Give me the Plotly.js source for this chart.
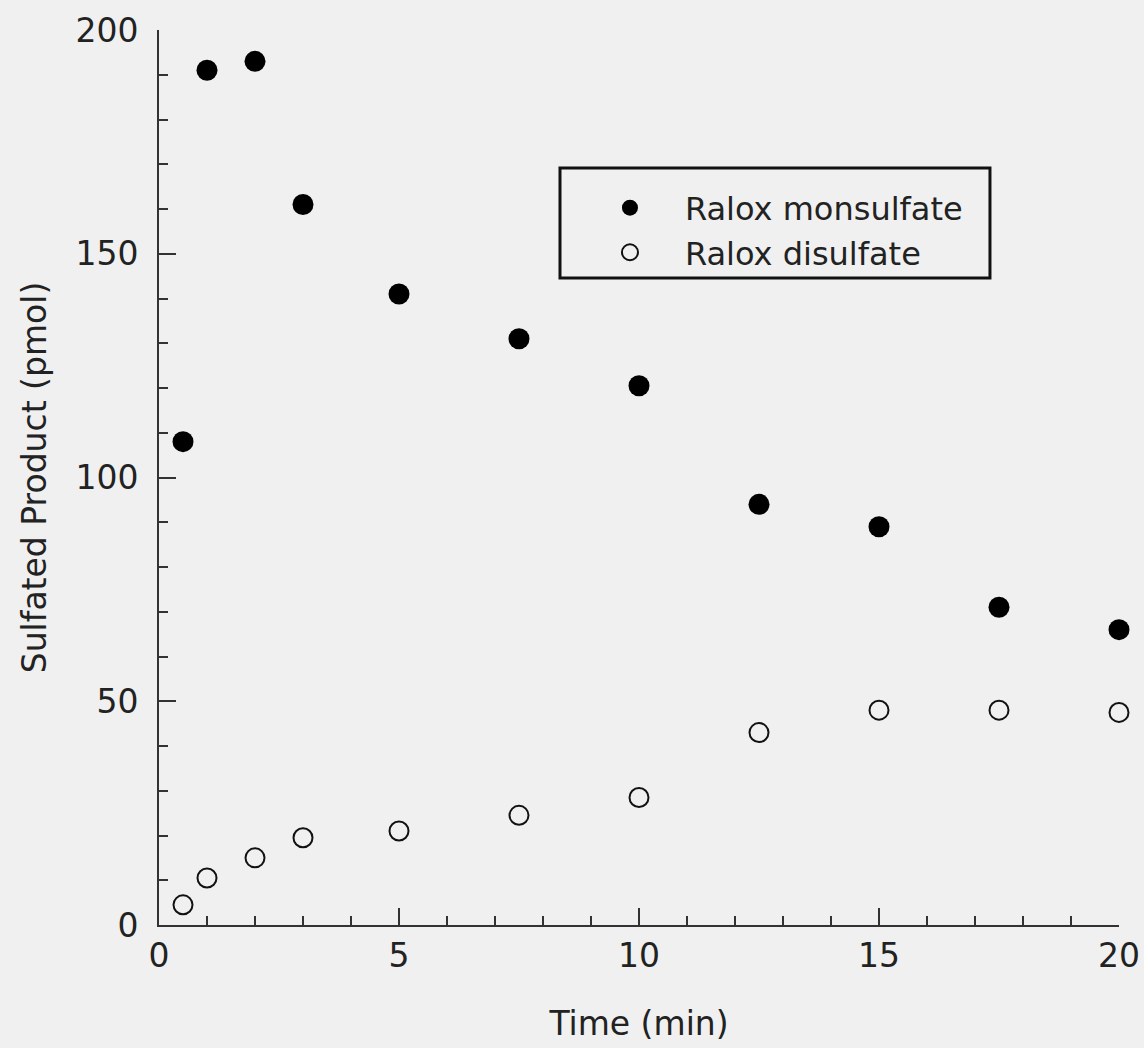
<!DOCTYPE html>
<html>
<head>
<meta charset="utf-8">
<script src="https://cdn.plot.ly/plotly-3.0.1.min.js"></script>
<style>html,body{margin:0;padding:0;background:#f0f0f0;}#chart{width:1144px;height:1048px;}</style>
</head>
<body>
<div id="chart"></div>
<script>
const timeMin = [0.5, 1, 2, 3, 5, 7.5, 10, 12.5, 15, 17.5, 20];
const monosulfate = [108, 191, 193, 161, 141, 131, 120.5, 94, 89, 71, 66];
const disulfate = [4.5, 10.5, 15, 19.5, 21, 24.5, 28.5, 43, 48, 48, 47.5];
const seriesNames = ["Ralox monsulfate", "Ralox disulfate"];
const xTitle = "Time (min)";
const yTitle = "Sulfated Product (pmol)";

const FONT = "DejaVu Sans, Verdana, sans-serif";
const txt = "#222";

const traces = [
  {x: timeMin, y: monosulfate, name: seriesNames[0], type: "scatter", mode: "markers", cliponaxis: false,
   marker: {symbol: "circle", size: 21, color: "#000"}},
  {x: timeMin, y: disulfate, name: seriesNames[1], type: "scatter", mode: "markers", cliponaxis: false,
   marker: {symbol: "circle-open", size: 19, color: "#111", line: {width: 2, color: "#111"}}}
];

const axisCommon = {
  showgrid: false, zeroline: false, showline: true, linecolor: "#333", linewidth: 2,
  ticks: "inside", ticklen: 17, tickwidth: 2, tickcolor: "#333",
  tickfont: {family: FONT, size: 33, color: txt}
};

const layout = {
  width: 1144, height: 1048,
  paper_bgcolor: "#f0f0f0", plot_bgcolor: "#f0f0f0",
  margin: {l: 159, r: 25, t: 30, b: 123},
  font: {family: FONT, color: txt},
  xaxis: Object.assign({}, axisCommon, {
    range: [0, 20], tickvals: [0, 5, 10, 15, 20],
    minor: {dtick: 1, ticks: "inside", ticklen: 9, tickwidth: 2, tickcolor: "#333"},
    title: {text: xTitle, font: {family: FONT, size: 33, color: txt}, standoff: 38}
  }),
  yaxis: Object.assign({}, axisCommon, {
    range: [0, 200], tickvals: [0, 50, 100, 150, 200],
    ticklabelstandoff: 12,
    minor: {dtick: 10, ticks: "inside", ticklen: 9, tickwidth: 2, tickcolor: "#333"},
    title: {text: yTitle, font: {family: FONT, size: 33, color: txt}, standoff: 19}
  }),
  showlegend: true,
  legend: {x: 0.4333, y: 0.832, xanchor: "left", yanchor: "top", bgcolor: "rgba(0,0,0,0)",
    borderwidth: 0, font: {family: FONT, size: 32, color: txt}, itemwidth: 100},
  shapes: [{type: "rect", xref: "paper", yref: "paper", x0: 0.4177, x1: 0.8656, y0: 0.7229, y1: 0.8458,
    line: {color: "#111", width: 3}}]
};

Plotly.newPlot("chart", traces, layout, {displayModeBar: false});
</script>
</body>
</html>
